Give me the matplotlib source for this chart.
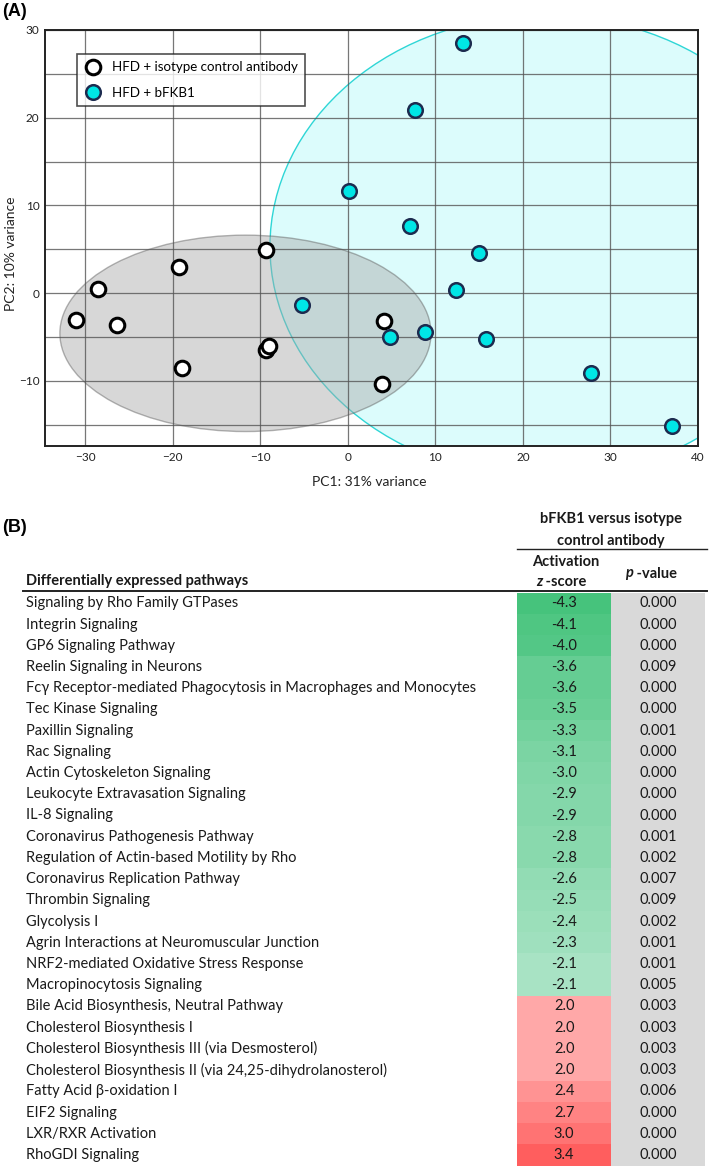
import numpy as np
import matplotlib
matplotlib.use("Agg")
import matplotlib.pyplot as plt
from matplotlib.patches import Ellipse
from matplotlib.lines import Line2D
from matplotlib.colors import LinearSegmentedColormap

plt.rcParams['font.family'] = ['Lato', 'Noto Sans', 'DejaVu Sans']

# ---- PCA scores ----
ctrl_x = [-31.1, -28.6, -26.4, -19.3, -19.0, -9.4, -9.4, -9.0, 4.1, 3.9]
ctrl_y = [-3.1, 0.5, -3.7, 3.0, -8.6, 4.9, -6.5, -6.1, -3.2, -10.4]
fkb_x = [13.1, 7.7, 0.1, 7.1, 15.0, 12.4, 4.8, 8.8, 15.8, 27.8, 37.0, -5.2]
fkb_y = [28.5, 20.9, 11.6, 7.6, 4.6, 0.4, -5.0, -4.4, -5.3, -9.1, -15.2, -1.4]

# confidence ellipses (center x, center y, width, height)
ctrl_ell = (-11.7, -4.6, 42.4, 22.4)
fkb_ell = (22.4, 5.3, 62.6, 52.8)

# ---- pathway table ----
pathways = [
    "Signaling by Rho Family GTPases",
    "Integrin Signaling",
    "GP6 Signaling Pathway",
    "Reelin Signaling in Neurons",
    "Fc\u03b3 Receptor-mediated Phagocytosis in Macrophages and Monocytes",
    "Tec Kinase Signaling",
    "Paxillin Signaling",
    "Rac Signaling",
    "Actin Cytoskeleton Signaling",
    "Leukocyte Extravasation Signaling",
    "IL-8 Signaling",
    "Coronavirus Pathogenesis Pathway",
    "Regulation of Actin-based Motility by Rho",
    "Coronavirus Replication Pathway",
    "Thrombin Signaling",
    "Glycolysis I",
    "Agrin Interactions at Neuromuscular Junction",
    "NRF2-mediated Oxidative Stress Response",
    "Macropinocytosis Signaling",
    "Bile Acid Biosynthesis, Neutral Pathway",
    "Cholesterol Biosynthesis I",
    "Cholesterol Biosynthesis III (via Desmosterol)",
    "Cholesterol Biosynthesis II (via 24,25-dihydrolanosterol)",
    "Fatty Acid \u03b2-oxidation I",
    "EIF2 Signaling",
    "LXR/RXR Activation",
    "RhoGDI Signaling",
]
z_scores = [-4.3, -4.1, -4.0, -3.6, -3.6, -3.5, -3.3, -3.1, -3.0, -2.9, -2.9,
            -2.8, -2.8, -2.6, -2.5, -2.4, -2.3, -2.1, -2.1,
            2.0, 2.0, 2.0, 2.0, 2.4, 2.7, 3.0, 3.4]
p_values = [0.000, 0.000, 0.000, 0.009, 0.000, 0.000, 0.001, 0.000, 0.000, 0.000,
            0.000, 0.001, 0.002, 0.007, 0.009, 0.002, 0.001, 0.001, 0.005,
            0.003, 0.003, 0.003, 0.003, 0.006, 0.000, 0.000, 0.000]

W, H = 709, 1171
fig = plt.figure(figsize=(W / 100, H / 100), dpi=100)

# ================= (A) PCA plot =================
ax = fig.add_axes([45 / W, 1 - 446 / H, 653 / W, 416 / H])
ax.set_xlim(-34.6, 40)
ax.set_ylim(-17.45, 30)

cx, cy, cw, ch = fkb_ell
ax.add_patch(Ellipse((cx, cy), cw, ch, facecolor='#dcfcfc', edgecolor='#2fd6d6',
                     linewidth=1.0, zorder=1))
cx, cy, cw, ch = ctrl_ell
ax.add_patch(Ellipse((cx, cy), cw, ch, facecolor='#a8a8a8', alpha=0.45,
                     edgecolor='#5a5a5a', linewidth=1.0, zorder=2))

ax.set_xticks(np.arange(-30, 41, 10))
ax.set_yticks(np.arange(-10, 31, 10))
ax.set_yticks(np.arange(-15, 30, 5), minor=True)
ax.grid(which='both', color='#555555', linewidth=0.9, alpha=0.8, zorder=3)
ax.set_axisbelow(False)
ax.tick_params(which='both', length=0, labelsize=8.5, pad=4, colors='#222222')
for sp in ax.spines.values():
    sp.set_linewidth(1.4)
    sp.set_color('#222222')
    sp.set_zorder(6)

ax.scatter(ctrl_x, ctrl_y, s=110, facecolor='white', edgecolor='black',
           linewidths=2.2, zorder=5)
ax.scatter(fkb_x, fkb_y, s=110, facecolor='#00e6e6', edgecolor='#1c2b4f',
           linewidths=1.8, zorder=5)

handles = [
    Line2D([], [], linestyle='none', marker='o', markersize=10.5,
           markerfacecolor='white', markeredgecolor='black', markeredgewidth=2.2),
    Line2D([], [], linestyle='none', marker='o', markersize=10.5,
           markerfacecolor='#00e6e6', markeredgecolor='#1c2b4f', markeredgewidth=1.8),
]
leg = ax.legend(handles, ["HFD + isotype control antibody", "HFD + bFKB1"],
                loc='upper left', bbox_to_anchor=(31.7 / 653, 1 - 24 / 416),
                fontsize=9.6, frameon=True, fancybox=False, borderpad=0.55,
                handletextpad=0.8, labelspacing=1.0, handlelength=1.3,
                borderaxespad=0)
leg.get_frame().set_edgecolor('#222222')
leg.get_frame().set_linewidth(1.2)
leg.set_zorder(7)

fig.text(369 / W, 1 - 482 / H, "PC1: 31% variance", ha='center', va='center',
         fontsize=10, color='#222222')
fig.text(11 / W, 1 - 254 / H, "PC2: 10% variance", ha='center', va='center',
         rotation=90, fontsize=10, color='#222222')
fig.text(2 / W, 1 - 12 / H, "(A)", ha='left', va='center', fontsize=13,
         weight='bold', family='Liberation Sans')

# ================= (B) pathway table =================
tx = fig.add_axes([0, 0, 1, 1], zorder=-1)
tx.set_xlim(0, W)
tx.set_ylim(H, 0)
tx.axis('off')

fig.text(2 / W, 1 - 528 / H, "(B)", ha='left', va='center', fontsize=13,
         weight='bold', family='Liberation Sans')

row0, row_h = 603.3, 21.22
rows = row0 + row_h * np.arange(len(pathways))
z_left, z_w = 517.3, 93.7
p_left, p_w = 611.0, 94.0

neg_cmap = LinearSegmentedColormap.from_list('neg', ['#46c37c', '#a8e3c4'])
pos_cmap = LinearSegmentedColormap.from_list('pos', ['#ffa8a8', '#ff5e5e'])
colors = []
for z in z_scores:
    if z < 0:
        colors.append(neg_cmap((z + 4.3) / 2.2))
    else:
        colors.append(pos_cmap((z - 2.0) / 1.4))

tx.barh(rows, z_w, left=z_left, height=row_h + 0.3, color=colors, linewidth=0)
tx.barh(rows, p_w, left=p_left, height=row_h + 0.3, color='#d9d9d9', linewidth=0)

txt_kw = dict(fontsize=10.5, color='#1a1a1a', va='center')
for y, name, z, p in zip(rows, pathways, z_scores, p_values):
    tx.text(26.5, y, name, ha='left', **txt_kw)
    tx.text(z_left + z_w / 2, y, f"{z:.1f}", ha='center', **txt_kw)
    tx.text(p_left + p_w / 2, y, f"{p:.3f}", ha='center', **txt_kw)

hdr_kw = dict(fontsize=10.5, color='#1a1a1a', weight='bold', va='center')
tx.text(611, 519.5, "bFKB1 versus isotype", ha='center', **hdr_kw)
tx.text(611, 540.5, "control antibody", ha='center', **hdr_kw)
tx.plot([517, 707], [549.3, 549.3], color='#222222', linewidth=1.0)
tx.text(566, 562.5, "Activation", ha='center', **hdr_kw)
zt = tx.text(536, 582.5, "z", ha='left', style='italic', **hdr_kw)
tx.annotate(" -score", xy=(1, 0.5), xycoords=zt, ha='left', **hdr_kw)
pt = tx.text(625, 573.5, "p", ha='left', style='italic', **hdr_kw)
tx.annotate(" -value", xy=(1, 0.5), xycoords=pt, ha='left', **hdr_kw)
tx.text(26.5, 581.5, "Differentially expressed pathways", ha='left', **hdr_kw)
tx.plot([23, 707], [591.2, 591.2], color='#222222', linewidth=1.4)

fig.savefig("out.png", dpi=100)
